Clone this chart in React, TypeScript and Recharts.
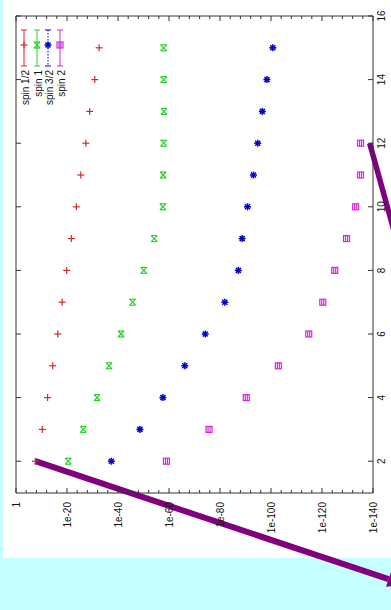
import { ScatterChart, Scatter, XAxis, YAxis, ReferenceLine } from "recharts";

// number of sites (vertical axis once the plot is turned)
const sizes = [2, 3, 4, 5, 6, 7, 8, 9, 10, 11, 12, 13, 14, 15];
const sizesSpin2 = [2, 3, 4, 5, 6, 7, 8, 9, 10, 11, 12];

const spinHalf = [2.5e-8, 5e-11, 4e-13, 4e-15, 4e-17, 7.9e-19, 1.3e-20, 2e-22, 2e-24, 4e-26, 4e-28, 1.3e-29, 1.3e-31, 2.5e-33];
const spinOne = [3.2e-21, 4e-27, 1.6e-32, 3.2e-37, 6.3e-42, 2e-46, 7.9e-51, 6.3e-55, 2.5e-58, 2e-58, 1.3e-58, 1e-58, 1.3e-58, 1.3e-58];
const spinThreeHalf = [4e-38, 2.5e-49, 2.5e-58, 6.3e-67, 6.3e-75, 1.3e-82, 6.3e-88, 2e-89, 1.6e-91, 7.9e-94, 1.6e-95, 2.5e-97, 4e-99, 2e-101];
const spinTwo = [1e-59, 2e-76, 5e-91, 1.3e-103, 1.6e-115, 5e-121, 1e-125, 2.5e-130, 6.3e-134, 7.9e-136, 7.9e-136];

const seriesNames = ["spin 1/2", "spin 1", "spin 3/2", "spin 2"];
const seriesColors = ["#d42a2a", "#2ccf2c", "#0000c8", "#d42ad4"];

const valueTicksExp = [0, 4, 8, 12, 16, 20, 24, 28, 32, 36, 40, 44, 48, 52, 56, 60, 64, 68, 72, 76, 80, 84, 88, 92, 96, 100, 104, 108, 112, 116, 120, 124, 128, 132, 136, 140];
const sizeTicks = [2, 4, 6, 8, 10, 12, 14, 16];

// purple annotation strokes, in data units
const arrowLow = [{ x: 2.5e-8, y: 2 }, { x: 1.6e-153, y: -1.89 }];
const arrowHigh = [{ x: 2e-139, y: 12 }, { x: 2e-150, y: 8.82 }];

const toPoints = (xs: number[], ns: number[]) => ns.map((n, i) => ({ v: xs[i], n }));
const seriesData = [
  toPoints(spinHalf, sizes),
  toPoints(spinOne, sizes),
  toPoints(spinThreeHalf, sizes),
  toPoints(spinTwo, sizesSpin2),
];

const FONT = "'Liberation Sans', Arial, sans-serif";
const INK = "#333";
const valueTicks = valueTicksExp.map((e) => Number(`1e-${e}`));

const expOf = (v: number) => Math.round(-Math.log10(v));

const BottomTick = (p: any) => {
  const e = expOf(p.payload.value);
  const major = e % 20 === 0;
  return (
    <g>
      <line x1={p.x} y1={p.y} x2={p.x} y2={p.y - (major ? 5 : 3)} stroke={INK} />
      {major && (
        <text
          transform={`translate(${p.x},${p.y + 9}) rotate(-90)`}
          textAnchor="end"
          dominantBaseline="central"
          fontSize={10}
          fontFamily={FONT}
          fill="#111"
        >
          {e === 0 ? "1" : `1e-${e}`}
        </text>
      )}
    </g>
  );
};

const TopTick = (p: any) => {
  const major = expOf(p.payload.value) % 20 === 0;
  return <line x1={p.x} y1={p.y} x2={p.x} y2={p.y + (major ? 5 : 3)} stroke={INK} />;
};

const RightTick = (p: any) => (
  <g>
    <line x1={p.x} y1={p.y} x2={p.x - 5} y2={p.y} stroke={INK} />
    <text
      transform={`translate(${p.x + 8.5},${p.y}) rotate(-90)`}
      textAnchor="middle"
      dominantBaseline="central"
      fontSize={10}
      fontFamily={FONT}
      fill="#111"
    >
      {p.payload.value}
    </text>
  </g>
);

const LeftTick = (p: any) => <line x1={p.x} y1={p.y} x2={p.x + 5} y2={p.y} stroke={INK} />;

const Marker = ({ kind, cx, cy, color }: { kind: number; cx: number; cy: number; color: string }) => {
  const r = 3.5;
  if (kind === 0)
    return (
      <g stroke={color} strokeWidth={1.2}>
        <line x1={cx - r} y1={cy} x2={cx + r} y2={cy} />
        <line x1={cx} y1={cy - r} x2={cx} y2={cy + r} />
      </g>
    );
  if (kind === 1)
    return (
      <g stroke={color} strokeWidth={1.2}>
        <line x1={cx - 3} y1={cy - 3} x2={cx + 3} y2={cy + 3} />
        <line x1={cx - 3} y1={cy + 3} x2={cx + 3} y2={cy - 3} />
        <line x1={cx - 3} y1={cy - 3} x2={cx + 3} y2={cy - 3} />
        <line x1={cx - 3} y1={cy + 3} x2={cx + 3} y2={cy + 3} />
      </g>
    );
  if (kind === 2)
    return (
      <g stroke={color} strokeWidth={1.5}>
        <line x1={cx - r} y1={cy} x2={cx + r} y2={cy} />
        <line x1={cx} y1={cy - r} x2={cx} y2={cy + r} />
        <line x1={cx - 2.5} y1={cy - 2.5} x2={cx + 2.5} y2={cy + 2.5} />
        <line x1={cx - 2.5} y1={cy + 2.5} x2={cx + 2.5} y2={cy - 2.5} />
      </g>
    );
  return (
    <g stroke={color} strokeWidth={1.2} fill="none">
      <rect x={cx - 3} y={cy - 3} width={6} height={6} />
      <line x1={cx - 1} y1={cy - 3} x2={cx - 1} y2={cy + 3} />
      <line x1={cx + 1} y1={cy - 3} x2={cx + 1} y2={cy + 3} />
    </g>
  );
};

const Stroke = (p: any) => <line x1={p.x1} y1={p.y1} x2={p.x2} y2={p.y2} stroke="#800080" strokeWidth={5.5} />;

const ArrowStroke = (p: any) => {
  const dx = p.x2 - p.x1;
  const dy = p.y2 - p.y1;
  const len = Math.hypot(dx, dy);
  const ux = dx / len;
  const uy = dy / len;
  const bx = p.x2 - ux * 18;
  const by = p.y2 - uy * 18;
  return (
    <g>
      <line x1={p.x1} y1={p.y1} x2={bx} y2={by} stroke="#800080" strokeWidth={6} />
      <polygon
        points={`${p.x2},${p.y2} ${bx - uy * 8},${by + ux * 8} ${bx + uy * 8},${by - ux * 8}`}
        fill="#800080"
      />
    </g>
  );
};

const legendCols = [24, 37, 48, 60];

const Legend = () => (
  <svg width={80} height={110} style={{ position: "absolute", left: 0, top: 0 }}>
    {seriesNames.map((name, i) => {
      const x = legendCols[i];
      const c = seriesColors[i];
      return (
        <g key={name}>
          <line x1={x} y1={30} x2={x} y2={66} stroke={c} strokeDasharray={i === 2 ? "1.5 1.5" : undefined} />
          <line x1={x - 3} y1={30} x2={x + 3} y2={30} stroke={c} />
          <line x1={x - 3} y1={66} x2={x + 3} y2={66} stroke={c} />
          <Marker kind={i} cx={x} cy={45} color={c} />
          <text
            transform={`translate(${x + 1},70) rotate(-90)`}
            textAnchor="end"
            dominantBaseline="central"
            fontSize={10}
            fontFamily={FONT}
            fill="#111"
          >
            {name}
          </text>
        </g>
      );
    })}
  </svg>
);

export default function App() {
  return (
    <div style={{ position: "fixed", left: 0, top: 0, width: 391, height: 610, background: "#c6ffff", overflow: "hidden" }}>
      <div style={{ position: "absolute", left: 3, top: 0, width: 388, height: 558, background: "#fff" }} />
      <div style={{ position: "absolute", left: 0, top: 0 }}>
        <ScatterChart width={391} height={610} margin={{ top: 11, left: 11, right: 0, bottom: 77 }}>
          <XAxis
            xAxisId="b"
            orientation="bottom"
            type="number"
            dataKey="v"
            scale="log"
            domain={[1e-140, 1]}
            allowDataOverflow
            reversed
            ticks={valueTicks}
            interval={0}
            height={40}
            tickSize={0}
            tickMargin={0}
            tickLine={false}
            axisLine={{ stroke: INK }}
            tick={BottomTick}
          />
          <XAxis
            xAxisId="t"
            orientation="top"
            type="number"
            dataKey="v"
            scale="log"
            domain={[1e-140, 1]}
            allowDataOverflow
            reversed
            ticks={valueTicks}
            interval={0}
            height={5}
            tickSize={0}
            tickMargin={0}
            tickLine={false}
            axisLine={{ stroke: INK }}
            tick={TopTick}
          />
          <YAxis
            yAxisId="r"
            orientation="right"
            type="number"
            dataKey="n"
            domain={[1, 16]}
            allowDataOverflow
            ticks={sizeTicks}
            interval={0}
            width={18}
            tickSize={0}
            tickMargin={0}
            tickLine={false}
            axisLine={{ stroke: INK }}
            tick={RightTick}
          />
          <YAxis
            yAxisId="l"
            orientation="left"
            type="number"
            dataKey="n"
            domain={[1, 16]}
            allowDataOverflow
            ticks={sizeTicks}
            interval={0}
            width={5}
            tickSize={0}
            tickMargin={0}
            tickLine={false}
            axisLine={{ stroke: INK }}
            tick={LeftTick}
          />
          {seriesData.map((data, i) => (
            <Scatter
              key={seriesNames[i]}
              name={seriesNames[i]}
              data={data}
              xAxisId="b"
              yAxisId="r"
              isAnimationActive={false}
              shape={(p: any) => <Marker kind={i} cx={p.cx} cy={p.cy} color={seriesColors[i]} />}
            />
          ))}
          <ReferenceLine xAxisId="b" yAxisId="r" segment={arrowLow} ifOverflow="visible" shape={ArrowStroke} />
          <ReferenceLine xAxisId="b" yAxisId="r" segment={arrowHigh} ifOverflow="visible" shape={Stroke} />
        </ScatterChart>
      </div>
      <Legend />
    </div>
  );
}
